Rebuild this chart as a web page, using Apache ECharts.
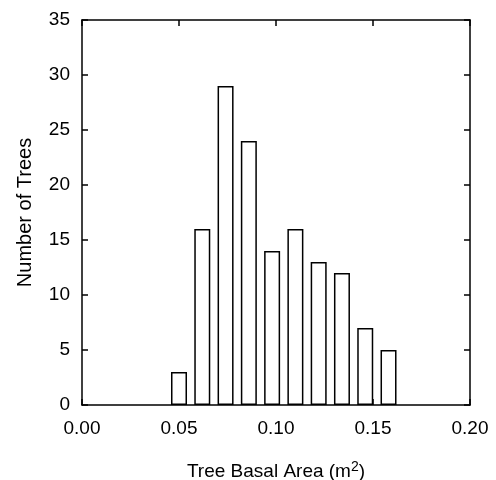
<!DOCTYPE html>
<html>
<head>
<meta charset="utf-8">
<script src="https://cdn.jsdelivr.net/npm/echarts@6/dist/echarts.min.js"></script>
<style>html,body{margin:0;padding:0;background:#fff;}#c{width:496px;height:480px;}</style>
</head>
<body>
<div id="c"></div>
<script>
var binCenters = [0.050, 0.062, 0.074, 0.086, 0.098, 0.110, 0.122, 0.134, 0.146, 0.158];
var counts = [3, 16, 29, 24, 14, 16, 13, 12, 7, 5];
var xTicks = [0.00, 0.05, 0.10, 0.15, 0.20];
var yTicks = [0, 5, 10, 15, 20, 25, 30, 35];

var data = binCenters.map(function (x, i) { return [x, counts[i]]; });
var font = 'Liberation Sans, Arial, sans-serif';
var lineStyle = { color: '#000', width: 1.5 };

var chart = echarts.init(document.getElementById('c'), null, { renderer: 'canvas' });
chart.setOption({
  animation: false,
  backgroundColor: '#fff',
  grid: { left: 82, right: 26, top: 20, bottom: 75, containLabel: false, outerBoundsMode: 'none' },
  xAxis: [{
    type: 'value', min: xTicks[0], max: xTicks[xTicks.length - 1], interval: 0.05,
    position: 'bottom',
    axisLine: { show: true, onZero: false, lineStyle: lineStyle },
    axisTick: { show: true, inside: true, length: 6, lineStyle: lineStyle },
    splitLine: { show: false },
    axisLabel: { color: '#000', fontSize: 19, fontFamily: font, margin: 14,
      formatter: function (v) { return v.toFixed(2); } },
    name: 'Tree Basal Area (m{sup|2})',
    nameLocation: 'middle', nameGap: 55,
    nameTextStyle: { color: '#000', fontSize: 19, fontFamily: font,
      rich: { sup: { fontSize: 14, fontFamily: font, color: '#000', verticalAlign: 'bottom', padding: [0, 0, 9, 0] } } }
  }, {
    type: 'value', min: xTicks[0], max: xTicks[xTicks.length - 1], interval: 0.05,
    position: 'top',
    axisLine: { show: true, onZero: false, lineStyle: lineStyle },
    axisTick: { show: true, inside: true, length: 6, lineStyle: lineStyle },
    splitLine: { show: false },
    axisLabel: { show: false }
  }],
  yAxis: [{
    type: 'value', min: yTicks[0], max: yTicks[yTicks.length - 1], interval: 5,
    position: 'left',
    axisLine: { show: true, onZero: false, lineStyle: lineStyle },
    axisTick: { show: true, inside: true, length: 6, lineStyle: lineStyle },
    splitLine: { show: false },
    axisLabel: { color: '#000', fontSize: 19, fontFamily: font, margin: 12 },
    name: 'Number of Trees',
    nameLocation: 'middle', nameGap: 47, nameRotate: 90,
    nameTextStyle: { color: '#000', fontSize: 20, fontFamily: font }
  }, {
    type: 'value', min: yTicks[0], max: yTicks[yTicks.length - 1], interval: 5,
    position: 'right',
    axisLine: { show: true, onZero: false, lineStyle: lineStyle },
    axisTick: { show: true, inside: true, length: 6, lineStyle: lineStyle },
    splitLine: { show: false },
    axisLabel: { show: false }
  }],
  series: [{
    type: 'bar',
    xAxisIndex: 0, yAxisIndex: 0,
    data: data,
    barWidth: 16,
    itemStyle: { color: '#fff', borderColor: '#000', borderWidth: 1.5 }
  }]
});
</script>
</body>
</html>
